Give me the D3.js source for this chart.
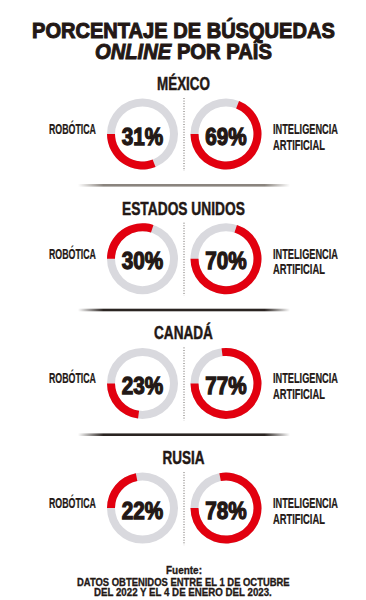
<!DOCTYPE html>
<html><head><meta charset="utf-8">
<script src="https://cdn.jsdelivr.net/npm/d3@7"></script>
<style>
html,body{margin:0;padding:0;background:#fff;}
svg{display:block;}
text{font-family:"Liberation Sans","DejaVu Sans",sans-serif;font-weight:bold;fill:#231815;}
</style></head>
<body>
<script>
// ---- data ----
const countries = ["MÉXICO", "ESTADOS UNIDOS", "CANADÁ", "RUSIA"];
const robotica = [31, 30, 23, 22];
const inteligencia = [69, 70, 77, 78];
const seriesLabels = ["ROBÓTICA", ["INTELIGENCIA", "ARTIFICIAL"]];
const titleLines = ["PORCENTAJE DE BÚSQUEDAS", ["ONLINE", " POR PAÍS"]];
const sourceLines = ["Fuente:", "DATOS OBTENIDOS ENTRE EL 1 DE OCTUBRE", "DEL 2022 Y EL 4 DE ENERO DEL 2023."];

// ---- layout / style ----
const W = 366, H = 600;
const RED = "#e2000f", GRAY = "#d9d9de", INK = "#231815";
const robDir = [-1, 1, -1, 1]; // direction in which the robótica arc grows from 9 o'clock
const svg = d3.select("body").append("svg").attr("width", W).attr("height", H);

// place a text horizontally condensed to a target width (or by a factor)
function place(sel, x, y, anchor, width, factor) {
  sel.attr("x", 0).attr("y", 0).attr("text-anchor", "start")
     .attr("vector-effect", "non-scaling-stroke");
  const n = sel.node().getComputedTextLength();
  const k = width ? width / n : factor;
  const w = n * k;
  const x0 = anchor === "middle" ? x - w / 2 : anchor === "end" ? x - w : x;
  sel.attr("transform", `translate(${x0},${y}) scale(${k},1)`);
  return sel;
}

const defs = svg.append("defs");
function grad(id, color) {
  const g = defs.append("linearGradient").attr("id", id).attr("x1", "0%").attr("x2", "100%");
  [[0, 0], [0.12, 1], [0.88, 1], [1, 0]].forEach(([o, a]) =>
    g.append("stop").attr("offset", o * 100 + "%").attr("stop-color", color).attr("stop-opacity", a));
}
grad("divLight", "#8a847e");
grad("divDark", "#2a2421");

// title
place(svg.append("text").attr("font-size", 22).attr("stroke", INK).attr("stroke-width", 1)
  .text(titleLines[0]), 183.5, 38, "middle", 303);
const t2 = svg.append("text").attr("font-size", 22).attr("stroke", INK).attr("stroke-width", 1);
t2.append("tspan").attr("font-style", "italic").text(titleLines[1][0]);
t2.append("tspan").text(titleLines[1][1]);
place(t2, 183.5, 59, "middle", 177);

const angle = d3.scaleLinear().domain([0, 100]).range([0, 2 * Math.PI]);
const anchor = 1.5 * Math.PI;
const rOuter = 35.5, rInner = 27.5;
const arc = d3.arc().innerRadius(rInner).outerRadius(rOuter);
const cxL = 142.5, cxR = 226, midX = 184;
const nameWidths = [53, 123, 59, 42];

countries.forEach((c, i) => {
  const base = 90 + i * 124.7;
  const cy = base + 44;
  const g = svg.append("g");

  place(g.append("text").attr("font-size", 18).attr("stroke", INK).attr("stroke-width", 0.4).text(c),
    183.5, base, "middle", nameWidths[i]);

  // dotted separator
  g.append("line").attr("x1", midX).attr("x2", midX).attr("y1", cy - 36).attr("y2", cy + 37)
    .attr("stroke", "#6b6663").attr("stroke-width", 1).attr("stroke-dasharray", "1,1.6");

  // donuts
  const donuts = [
    {cx: cxL, v: robotica[i], dir: robDir[i]},
    {cx: cxR, v: inteligencia[i], dir: -1}
  ];
  donuts.forEach(d => {
    const dg = g.append("g");
    dg.append("path").attr("transform", `translate(${d.cx},${cy})`)
      .attr("d", arc({startAngle: 0, endAngle: 2 * Math.PI})).attr("fill", GRAY);
    const a = angle(d.v);
    const s = d.dir < 0 ? anchor - a : anchor;
    dg.append("path").attr("transform", `translate(${d.cx},${cy})`)
      .attr("d", arc({startAngle: s, endAngle: s + a})).attr("fill", RED);
    place(dg.append("text").attr("font-size", 23.5).attr("stroke", INK).attr("stroke-width", 1.2)
      .text(d.v + "%"), d.cx, cy + 10.5, "middle", null, 0.88);
  });

  // labels
  place(g.append("text").attr("font-size", 14.5).attr("stroke", INK).attr("stroke-width", 0.2)
    .text(seriesLabels[0]), 96, cy, "end", 47);
  place(g.append("text").attr("font-size", 14).attr("stroke", INK).attr("stroke-width", 0.2)
    .text(seriesLabels[1][0]), 273, cy, "start", 65);
  place(g.append("text").attr("font-size", 14).attr("stroke", INK).attr("stroke-width", 0.2)
    .text(seriesLabels[1][1]), 273, cy + 15.5, "start", 52);

  // divider
  if (i < countries.length - 1) {
    g.append("rect").attr("x", 78).attr("width", 212).attr("y", base + 94).attr("height", 2.6)
      .attr("fill", i === 0 ? "url(#divLight)" : "url(#divDark)");
  }
});

// source
place(svg.append("text").attr("font-size", 11.5).attr("stroke", INK).attr("stroke-width", 0.3)
  .text(sourceLines[0]), 184, 574, "middle", 36);
place(svg.append("text").attr("font-size", 10.5).attr("font-weight", "normal").attr("stroke", INK).attr("stroke-width", 0.3)
  .text(sourceLines[1]), 183.5, 585.7, "middle", 213);
place(svg.append("text").attr("font-size", 10.5).attr("font-weight", "normal").attr("stroke", INK).attr("stroke-width", 0.3)
  .text(sourceLines[2]), 183, 595.7, "middle", 178);
</script>
</body></html>
